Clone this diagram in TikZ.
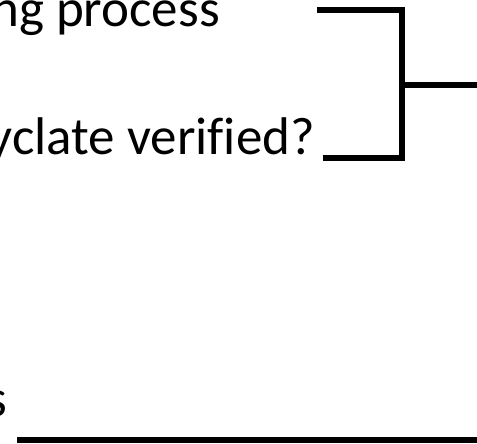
\documentclass[tikz,border=0pt]{standalone}
\usepackage{fontspec}
\setmainfont[Ligatures=NoCommon]{Carlito}
\begin{document}
\begin{tikzpicture}[x=1pt,y=1pt,
  lbl/.style={inner sep=0pt,anchor=base east,font=\fontsize{53}{63}\selectfont},
  conn/.style={line width=5.5pt,line cap=butt,line join=miter}]
\useasboundingbox (0,0) rectangle (477,444);
\node[lbl] (t1) at (220,417) {ng process};
\node[lbl] (t2) at (315,289) {yclate verified?};
\node[lbl] (t3) at (7,27) {s};
\coordinate (a1) at (317,434);
\coordinate (a2) at (402,434);
\coordinate (b1) at (323,286);
\coordinate (b2) at (402,286);
\coordinate (m1) at (402,359);
\coordinate (m2) at (477,359);
\coordinate (c1) at (17,4);
\coordinate (c2) at (477,4);
\draw[conn] (a1) -- (a2) -- (b2) -- (b1);
\draw[conn] (m1) -- (m2);
\draw[conn,line width=6pt] (c1) -- (c2);
\end{tikzpicture}
\end{document}
